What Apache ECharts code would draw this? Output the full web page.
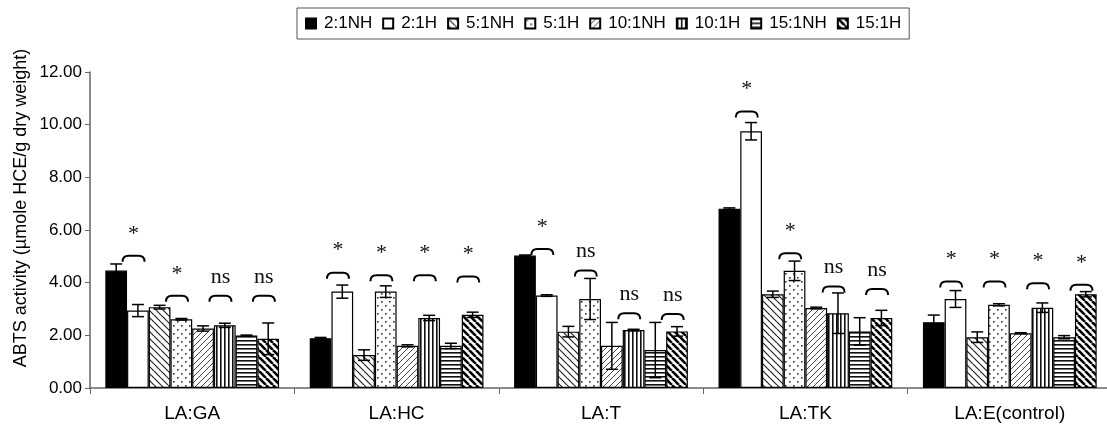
<!DOCTYPE html>
<html>
<head>
<meta charset="utf-8">
<title>ABTS activity</title>
<script src="https://cdn.jsdelivr.net/npm/echarts@6/dist/echarts.min.js"></script>
<style>
  html, body { margin: 0; padding: 0; background: #fff; }
  #chart { width: 1107px; height: 434px; }
</style>
</head>
<body>
<div id="chart"></div>
<script>
'use strict';

var categories = ['LA:GA', 'LA:HC', 'LA:T', 'LA:TK', 'LA:E(control)'];
var seriesNames = ['2:1NH', '2:1H', '5:1NH', '5:1H', '10:1NH', '10:1H', '15:1NH', '15:1H'];
var yTicks = [0, 2, 4, 6, 8, 10, 12];

// bar means, one array per ratio
var v21NH = [4.46, 1.89, 5.03, 6.81, 2.50],
    v21H = [2.94, 3.66, 3.51, 9.75, 3.38],
    v51NH = [3.07, 1.25, 2.14, 3.56, 1.93],
    v51H = [2.61, 3.66, 3.38, 4.45, 3.16],
    v101NH = [2.26, 1.60, 1.60, 3.04, 2.08],
    v101H = [2.38, 2.66, 2.20, 2.84, 3.05],
    v151NH = [1.99, 1.60, 1.44, 2.15, 1.93],
    v151H = [1.87, 2.78, 2.15, 2.66, 3.56];

// error (+/-)
var e21NH = [0.25, 0.03, 0.02, 0.03, 0.27],
    e21H = [0.23, 0.25, 0.03, 0.33, 0.32],
    e51NH = [0.07, 0.20, 0.20, 0.12, 0.20],
    e51H = [0.03, 0.22, 0.78, 0.37, 0.04],
    e101NH = [0.10, 0.04, 0.89, 0.03, 0.02],
    e101H = [0.08, 0.10, 0.03, 0.77, 0.18],
    e151NH = [0.02, 0.10, 1.05, 0.52, 0.06],
    e151H = [0.60, 0.10, 0.18, 0.29, 0.10];

// NH vs H significance per pair, and the height the bracket sits at
var sigGA = ['*', '*', 'ns', 'ns'],
    sigHC = ['*', '*', '*', '*'],
    sigT = ['*', 'ns', 'ns', 'ns'],
    sigTK = ['*', '*', 'ns', 'ns'],
    sigE = ['*', '*', '*', '*'];
var lvlGA = [5.02, 3.50, 3.50, 3.50],
    lvlHC = [4.38, 4.28, 4.28, 4.23],
    lvlT = [5.28, 4.46, 2.84, 2.81],
    lvlTK = [10.50, 5.12, 3.85, 3.76],
    lvlE = [4.04, 4.04, 3.98, 3.92];

var values = [v21NH, v21H, v51NH, v51H, v101NH, v101H, v151NH, v151H];
var errors = [e21NH, e21H, e51NH, e51H, e101NH, e101H, e151NH, e151H];
var sigs = [sigGA, sigHC, sigT, sigTK, sigE];
var levels = [lvlGA, lvlHC, lvlT, lvlTK, lvlE];

var GAP = 0.15;
var N = seriesNames.length;

// --- fill patterns ---
function tile(w, h, draw) {
    var c = document.createElement('canvas');
    c.width = w;
    c.height = h;
    var ctx = c.getContext('2d');
    ctx.fillStyle = '#fff';
    ctx.fillRect(0, 0, w, h);
    draw(ctx, w, h);
    return { image: c, repeat: 'repeat' };
}
function diag(back, s, lw, col) {
    return tile(s, s, function (ctx) {
        ctx.strokeStyle = col;
        ctx.lineWidth = lw;
        for (var k = -1; k <= 1; k++) {
            ctx.beginPath();
            if (back) {
                ctx.moveTo(k * s, 0);
                ctx.lineTo(k * s + s, s);
            } else {
                ctx.moveTo(k * s + s, 0);
                ctx.lineTo(k * s, s);
            }
            ctx.stroke();
        }
    });
}
var fills = [
    '#000',
    '#fff',
    diag(true, 7, 1.2, '#222'),
    tile(8, 8, function (ctx) {
        ctx.fillStyle = '#333';
        ctx.fillRect(1, 1, 1.6, 1.6);
        ctx.fillRect(5, 5, 1.6, 1.6);
    }),
    diag(false, 6, 1, '#444'),
    tile(4, 4, function (ctx) {
        ctx.fillStyle = '#111';
        ctx.fillRect(0, 0, 1.6, 4);
    }),
    tile(4, 4, function (ctx) {
        ctx.fillStyle = '#111';
        ctx.fillRect(0, 0, 4, 1.6);
    }),
    diag(true, 7, 2.6, '#000')
];

var chart = echarts.init(document.getElementById('chart'));

var barSeries = seriesNames.map(function (name, i) {
    return {
        name: name,
        type: 'bar',
        barGap: '0%',
        barCategoryGap: (GAP * 100) + '%',
        itemStyle: {
            color: fills[i],
            borderColor: '#000',
            borderWidth: 1.2
        },
        emphasis: { disabled: true },
        data: values[i]
    };
});

// error bar rows: [category, series, value, err]
var errData = [];
values.forEach(function (arr, s) {
    arr.forEach(function (v, c) {
        errData.push([c, s, v, errors[s][c]]);
    });
});

// bracket rows: [category, pair, level, label]
var sigData = [];
sigs.forEach(function (arr, c) {
    arr.forEach(function (t, p) {
        sigData.push([c, p, levels[c][p], t]);
    });
});

function barCenter(api, cat, s) {
    var band = api.size([1, 0])[0];
    var bw = band * (1 - GAP) / N;
    return api.coord([cat, 0])[0] - band * (1 - GAP) / 2 + bw * (s + 0.5);
}

function renderError(params, api) {
    var cat = api.value(0), s = api.value(1), v = api.value(2), e = api.value(3);
    var x = barCenter(api, cat, s);
    var y1 = api.coord([cat, v + e])[1];
    var y2 = api.coord([cat, v - e])[1];
    var cap = 6;
    var st = { stroke: '#000', lineWidth: 1.5 };
    return {
        type: 'group',
        children: [
            { type: 'line', shape: { x1: x, y1: y1, x2: x, y2: y2 }, style: st },
            { type: 'line', shape: { x1: x - cap, y1: y1, x2: x + cap, y2: y1 }, style: st },
            { type: 'line', shape: { x1: x - cap, y1: y2, x2: x + cap, y2: y2 }, style: st }
        ]
    };
}

function renderSig(params, api) {
    var cat = api.value(0), p = api.value(1), lvl = api.value(2);
    var label = sigData[params.dataIndex][3];
    var band = api.size([1, 0])[0];
    var bw = band * (1 - GAP) / N;
    var x = barCenter(api, cat, 2 * p) + bw * 0.5 + bw * 0.3;
    var y = api.coord([cat, lvl])[1];
    var hw = 11, h = 6;
    var d = 'M' + (x - hw) + ' ' + (y + h) +
        ' Q' + (x - hw) + ' ' + y + ' ' + (x - hw + 6) + ' ' + y +
        ' L' + (x + hw - 6) + ' ' + y +
        ' Q' + (x + hw) + ' ' + y + ' ' + (x + hw) + ' ' + (y + h);
    return {
        type: 'group',
        children: [
            { type: 'path', shape: { pathData: d }, style: { fill: null, stroke: '#000', lineWidth: 2 } },
            {
                type: 'text',
                x: x,
                y: label === '*' ? y - 11 : y - 8,
                style: {
                    text: label,
                    font: '22px "Liberation Serif", "Times New Roman", serif',
                    fill: '#111',
                    align: 'center',
                    verticalAlign: 'bottom'
                }
            }
        ]
    };
}

var option = {
    animation: false,
    textStyle: { fontFamily: '"Liberation Sans", Arial, sans-serif' },
    legend: {
        data: seriesNames,
        top: 8,
        left: 297,
        itemWidth: 10,
        itemHeight: 10,
        itemGap: 10,
        padding: [7, 8],
        borderColor: '#555',
        borderWidth: 1,
        icon: 'rect',
        textStyle: { fontSize: 17, color: '#000', padding: [0, 0, 0, 3] }
    },
    grid: {
        left: 90,
        width: 1022,
        top: 72,
        bottom: 46,
        outerBoundsMode: 'none'
    },
    xAxis: {
        type: 'category',
        data: categories,
        axisLine: { lineStyle: { color: '#666', width: 1.5 } },
        axisTick: { show: true, length: 6, lineStyle: { color: '#666' } },
        axisLabel: { fontSize: 19, color: '#000', margin: 16 }
    },
    yAxis: {
        type: 'value',
        min: yTicks[0],
        max: yTicks[yTicks.length - 1],
        interval: yTicks[1] - yTicks[0],
        axisLine: { show: true, lineStyle: { color: '#666', width: 1.5 } },
        axisTick: { show: true, length: 5, lineStyle: { color: '#666' } },
        splitLine: { show: false },
        axisLabel: {
            fontSize: 17,
            color: '#000',
            margin: 8,
            formatter: function (v) { return v.toFixed(2); }
        }
    },
    graphic: [{
        type: 'text',
        x: 21,
        y: 208,
        rotation: Math.PI / 2,
        style: {
            text: 'ABTS activity (\u00b5mole HCE/g dry weight)',
            font: '18px "Liberation Sans", Arial, sans-serif',
            fill: '#000',
            align: 'center',
            verticalAlign: 'middle'
        }
    }],
    series: barSeries.concat([{
        name: 'err',
        type: 'custom',
        renderItem: renderError,
        encode: { x: 0, y: 2 },
        z: 5,
        silent: true,
        data: errData
    }, {
        name: 'sig',
        type: 'custom',
        renderItem: renderSig,
        encode: { x: 0, y: 2 },
        z: 6,
        silent: true,
        data: sigData
    }])
};

chart.setOption(option);
</script>
</body>
</html>
